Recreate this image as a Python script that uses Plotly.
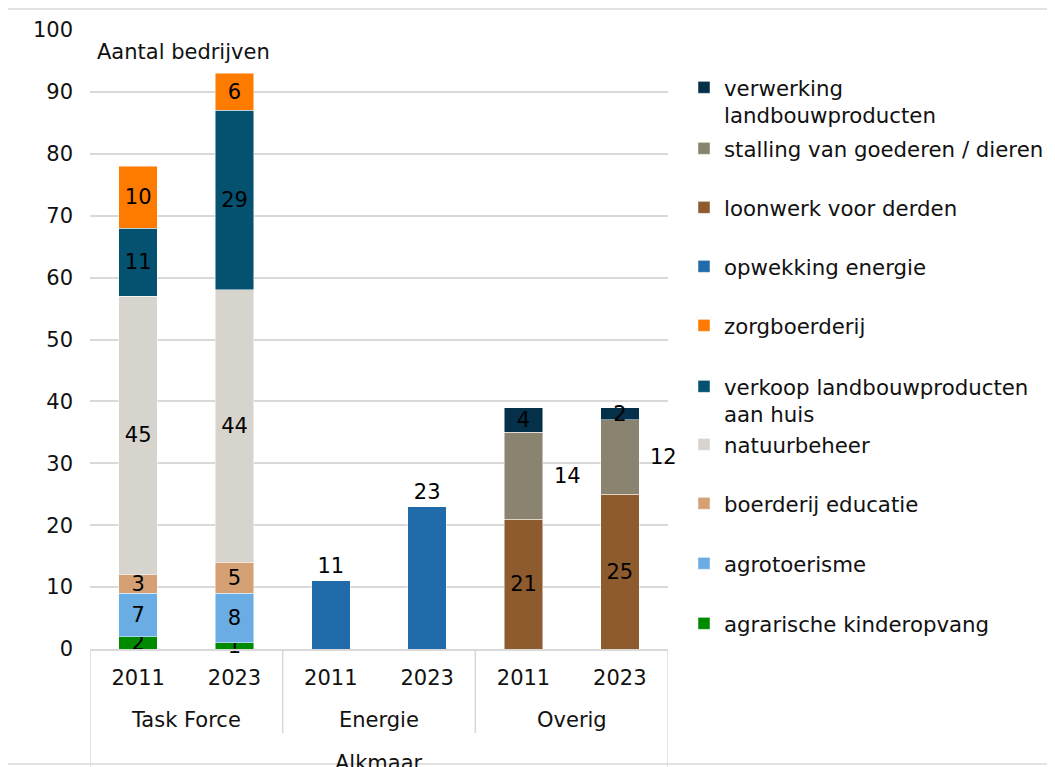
import plotly.graph_objects as go

# ---------------- data ----------------
groups = ["Task Force", "Energie", "Overig"]
years = ["2011", "2023"]
region = "Alkmaar"
y_title = "Aantal bedrijven"

cat_tf = ["Task Force 2011", "Task Force 2023"]
cat_en = ["Energie 2011", "Energie 2023"]
cat_ov = ["Overig 2011", "Overig 2023"]
categories = cat_tf + cat_en + cat_ov
tick_years = years * 3

kinderopvang = [2, 1]
agrotoerisme = [7, 8]
educatie = [3, 5]
natuurbeheer = [45, 44]
verkoop = [11, 29]
zorgboerderij = [10, 6]
energie = [11, 23]
loonwerk = [21, 25]
stalling = [14, 12]
verwerking = [4, 2]

# (name, x categories, values, colour, label mode) bottom -> top
series = [
    ("agrarische kinderopvang", cat_tf, kinderopvang, "#008A00", "inside"),
    ("agrotoerisme", cat_tf, agrotoerisme, "#6AADE4", "inside"),
    ("boerderij educatie", cat_tf, educatie, "#D4A074", "inside"),
    ("natuurbeheer", cat_tf, natuurbeheer, "#D6D4CC", "inside"),
    ("verkoop landbouwproducten<br>aan huis", cat_tf, verkoop, "#045170", "inside"),
    ("zorgboerderij", cat_tf, zorgboerderij, "#FF7B00", "inside"),
    ("opwekking energie", cat_en, energie, "#216BAB", "outside"),
    ("loonwerk voor derden", cat_ov, loonwerk, "#8E5B2F", "inside"),
    ("stalling van goederen / dieren", cat_ov, stalling, "#8A8370", "right"),
    ("verwerking<br>landbouwproducten", cat_ov, verwerking, "#04304A", "inside"),
]

# ---------------- layout geometry ----------------
# page body has an 8px margin: figure coords = screen coords - 8
OFF = 8
W, H = 1055 - OFF, 767 - OFF
S_PL, S_PR, S_PT, S_PB = 90, 668, 30, 649  # plot area in screen px
PL, PR, PT, PB = S_PL - OFF, S_PR - OFF, S_PT - OFF, S_PB - OFF


def px_x(p):  # screen px -> paper
    return (p - OFF - PL) / (PR - PL)


def px_y(p):
    return (PB - (p - OFF)) / (PB - PT)


FONT = "DejaVu Sans, Verdana, sans-serif"
FS = 21
LFS = 21.3
TXT = "#111111"
GRID = "#D9D9D9"

# legend first-line centres (screen px), top -> bottom
legend_centres = [88, 149, 208, 267, 326, 387, 445, 504, 564, 624]

fig = go.Figure()
annotations = []
layout_legends = {}

n = len(series)
for i, (name, xs, vals, col, mode) in enumerate(series):
    leg_rank = n - 1 - i  # top of legend is the last trace
    leg_id = "legend" if leg_rank == 0 else f"legend{leg_rank + 1}"
    kw = dict(
        x=xs, y=vals, name=name,
        marker=dict(color=col, line=dict(color="rgba(255,255,255,0.6)", width=0.8)),
        legend=leg_id, showlegend=True, cliponaxis=False,
        textfont=dict(family=FONT, size=FS, color="#000000"),
    )
    if mode in ("inside", "outside"):
        kw.update(text=[str(v) for v in vals], textposition=mode, insidetextanchor="middle",
                  constraintext="none", textangle=0, texttemplate="%{text}")
    fig.add_trace(go.Bar(**kw))
    if mode == "right":
        for j, xc in enumerate(xs):
            base = 0
            for (_, xs2, vals2, _, _) in series[:i]:
                if xc in xs2:
                    base += vals2[xs2.index(xc)]
            annotations.append(dict(
                x=xc, y=base + vals[j] / 2, xref="x", yref="y", text=str(vals[j]),
                xanchor="center", yanchor="middle",
                showarrow=False, xshift=44, font=dict(family=FONT, size=FS, color="#000000"),
            ))
    layout_legends[leg_id] = dict(
        x=px_x(684), xanchor="left", y=px_y(legend_centres[leg_rank] - 21), yanchor="top",
        valign="top", bgcolor="rgba(0,0,0,0)", borderwidth=0,
        font=dict(family=FONT, size=LFS, color=TXT), itemclick=False,
    )

# group labels
for g_i, g in enumerate(groups):
    annotations.append(dict(x=2 * g_i + 0.5, y=px_y(720), xref="x", yref="paper", text=g,
                            xanchor="center", yanchor="middle",
                            showarrow=False, font=dict(family=FONT, size=FS, color=TXT)))
annotations.append(dict(x=2.5, y=px_y(763), xref="x", yref="paper", text=region, showarrow=False,
                        xanchor="center", yanchor="middle",
                        font=dict(family=FONT, size=FS, color=TXT)))
annotations.append(dict(x=px_x(95), y=px_y(52), xref="paper", yref="paper", xanchor="left",
                        yanchor="middle",
                        text=y_title, showarrow=False, font=dict(family=FONT, size=FS, color=TXT)))

shapes = [
    # outer chart border
    dict(type="rect", xref="paper", yref="paper", x0=px_x(7), x1=px_x(1054), y0=px_y(764), y1=px_y(9),
         line=dict(color=GRID, width=1.5), layer="below"),
    # category box verticals
    dict(type="line", xref="x", yref="paper", x0=-0.5, x1=-0.5, y0=0, y1=px_y(770), line=dict(color=GRID, width=1.5)),
    dict(type="line", xref="x", yref="paper", x0=5.5, x1=5.5, y0=0, y1=px_y(770), line=dict(color=GRID, width=1.5)),
    dict(type="line", xref="x", yref="paper", x0=1.5, x1=1.5, y0=0, y1=px_y(733), line=dict(color=GRID, width=1.5)),
    dict(type="line", xref="x", yref="paper", x0=3.5, x1=3.5, y0=0, y1=px_y(733), line=dict(color=GRID, width=1.5)),
]

fig.update_layout(
    width=W, height=H, autosize=False,
    margin=dict(l=PL, r=W - PR, t=PT, b=H - PB, autoexpand=False),
    paper_bgcolor="white", plot_bgcolor="white",
    barmode="stack", bargap=0.6,
    font=dict(family=FONT, size=FS, color=TXT),
    annotations=annotations, shapes=shapes,
    **layout_legends,
)
fig.update_xaxes(type="category", categoryorder="array", categoryarray=categories,
                 tickvals=categories, ticktext=tick_years, range=[-0.5, 5.5],
                 showgrid=False, showline=True, linecolor=GRID, linewidth=1.5, ticks="",
                 tickfont=dict(family=FONT, size=FS, color=TXT), ticklabelstandoff=9, fixedrange=True)
fig.update_yaxes(range=[0, 100], dtick=10, tick0=0, showgrid=True, gridcolor=GRID, gridwidth=1.5,
                 zeroline=False, showline=False, ticks="", ticklabelstandoff=16,
                 tickfont=dict(family=FONT, size=FS, color=TXT), fixedrange=True)

fig.write_html("out.html")
